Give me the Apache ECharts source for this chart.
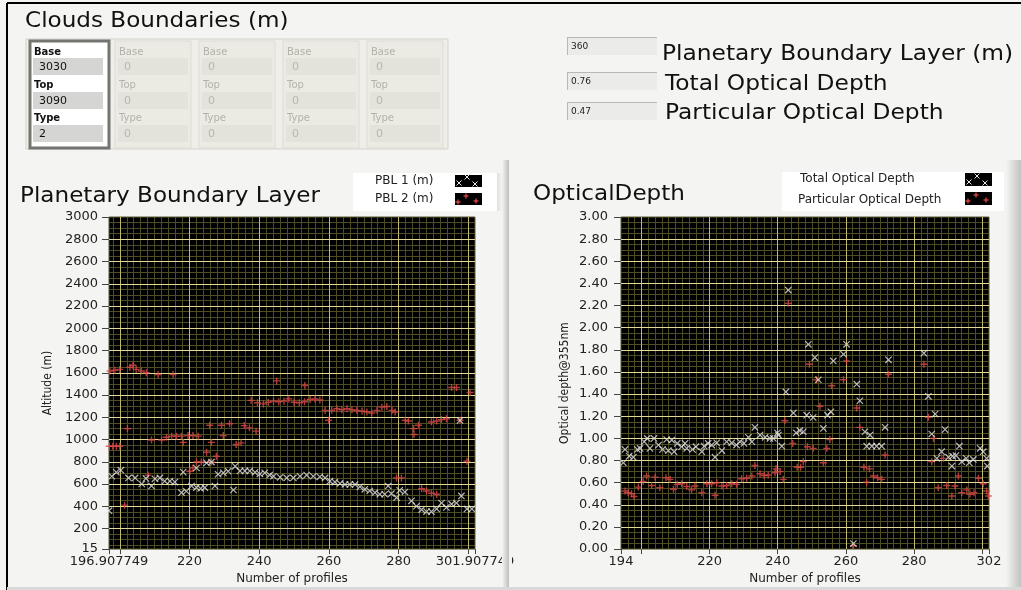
<!DOCTYPE html>
<html><head><meta charset="utf-8">
<script src="https://cdn.jsdelivr.net/npm/echarts@6/dist/echarts.min.js"></script>
<style>html,body{margin:0;padding:0;background:#f4f4f2;}#c{width:1021px;height:590px;}</style>
</head><body><div id="c"></div>
<script>
// ---------------- data ----------------
const cloudFieldLabels = ['Base', 'Top', 'Type'];
const cloudValues = [[3030, 3090, 2], [0, 0, 0], [0, 0, 0], [0, 0, 0], [0, 0, 0]];
const indicatorValues = ['360', '0.76', '0.47'];
const indicatorNames = ['Planetary Boundary Layer (m)', 'Total Optical Depth', 'Particular Optical Depth'];

const pblXLabels = [196.907749, 220, 240, 260, 280, 301.907749];
const pblXTicks = [196.907749, 200, 220, 240, 260, 280, 300, 301.907749];
const pblYLabels = [15, 200, 400, 600, 800, 1000, 1200, 1400, 1600, 1800, 2000, 2200, 2400, 2600, 2800, 3000];
const odXLabels = [194, 220, 240, 260, 280, 302];
const odXTicks = [194, 200, 220, 240, 260, 280, 300, 302];

// PBL 1 (m)  [profile, altitude]
const pbl1 = [[196.9,360],[197.7,670],[199,706],[200.3,724],[202.5,655],[204.4,655],[206.3,600],[207.5,650],[209.1,582],[210.1,647],[211.5,655],[212.9,626],[214.4,626],[215.8,617],[217.7,522],[218.2,707],[219.1,535],[220.6,582],[222,568],[223.2,560],[224.4,568],[222,744],[224.9,790],[226.3,797],[227.3,582],[228.2,688],[229.7,700],[231.1,715],[232.6,546],[233.1,759],[234.5,718],[235.9,718],[237.3,718],[238.8,705],[240.2,690],[241.6,700],[243,680],[244.1,670],[246,660],[247.9,655],[249.8,655],[251.7,670],[253.6,680],[255.5,670],[257.4,665],[258.9,655],[260.3,626],[261.7,617],[263.2,605],[264.6,596],[266,596],[267.5,596],[268.9,575],[270.3,552],[271.7,537],[273.2,522],[274.6,508],[276,508],[277,582],[277.9,513],[279.4,478],[280.3,543],[281.8,528],[283.7,449],[285.1,400],[286.6,370],[288,352],[289.4,352],[290.9,376],[292.3,429],[293.7,390],[295.2,419],[296.6,429],[297.6,1172],[298,493],[299.6,376],[301,376]];
// PBL 2 (m)
const pbl2 = [[197.2,1616],[198.6,1622],[200,1630],[202.9,1650],[203.8,1668],[204.7,1630],[206.2,1616],[207.6,1600],[211,1585],[215.3,1585],[197,940],[198,940],[199,940],[200,940],[201.4,410],[202.2,1098],[208.1,680],[209.1,995],[212,995],[213.4,1020],[214.9,1030],[216.3,1030],[217.7,1030],[218.2,974],[219.6,1035],[221,1035],[222.5,1030],[220.1,715],[221,745],[222,798],[223.4,798],[224.9,885],[226.3,974],[226.3,798],[227.7,850],[225.8,1128],[229.7,1035],[229.2,1128],[231.5,1142],[233.4,955],[234.8,970],[235.7,1125],[237.2,1105],[239.1,1075],[237.7,1352],[239.5,1330],[241.2,1320],[242.6,1335],[244.1,1345],[245,1527],[245.6,1340],[247.1,1345],[248.5,1365],[250,1335],[251.5,1330],[253,1340],[253.1,1485],[254.6,1360],[256,1365],[257.4,1355],[258.9,1262],[259.9,1173],[260.8,1262],[262.3,1277],[263.7,1268],[265.2,1277],[266.6,1268],[268,1262],[269.5,1256],[270.9,1247],[272.3,1238],[273.8,1262],[275.2,1291],[276.6,1297],[278.1,1262],[279,1247],[279.4,655],[280.8,655],[281.9,1173],[282.8,1167],[284.3,1098],[284.4,1045],[285.7,1128],[286.6,558],[288,537],[289.4,517],[290.9,508],[289.4,1158],[290.9,1167],[292.3,1179],[293.7,1187],[295.2,1467],[296.6,1467],[297.6,1173],[299.6,804],[300.5,1423]];
// Total Optical Depth
const totalOD = [[194.7,0.78],[195.2,0.90],[196.4,0.84],[197.6,0.83],[198.8,0.90],[199.6,0.91],[200.8,0.97],[201.7,1.00],[202.5,0.91],[203.7,1.00],[205,0.94],[206.2,0.90],[207.4,0.99],[207.9,0.89],[208.9,0.985],[209.6,0.88],[210.5,0.955],[211.8,0.925],[212.8,0.955],[213.3,0.91],[215,0.90],[216,0.925],[217.7,0.88],[218.4,0.93],[219.6,0.955],[220.6,0.94],[221.6,0.83],[222.1,0.96],[223.6,0.89],[225,0.97],[226.5,0.96],[227.9,0.94],[228.9,0.97],[230.1,0.955],[231.4,1.01],[232.4,0.97],[233.3,1.10],[234.8,1.03],[236.3,1.01],[237.7,1.00],[238.7,1.00],[239.9,1.05],[240.2,1.03],[241.2,0.93],[242.4,1.42],[243.1,2.34],[244.6,1.23],[245.4,1.05],[246.5,1.07],[247.5,1.06],[248.5,1.21],[249,1.85],[250.4,1.19],[250.9,1.73],[251.9,1.53],[253.4,1.09],[254.6,1.21],[255.6,1.24],[256.3,1.70],[259.3,1.76],[260.2,1.85],[262.2,0.05],[263.2,1.49],[264.1,1.34],[265.6,1.06],[266.1,0.93],[267.1,1.03],[267.6,0.93],[269,0.93],[270.5,0.93],[271.5,1.10],[272.5,1.71],[282.9,1.77],[284.2,1.38],[285.2,1.04],[286.2,1.22],[286.7,0.82],[288.1,0.88],[289.1,1.08],[290.1,0.83],[291.1,0.75],[291.3,0.84],[292.3,0.845],[293.3,0.93],[294,0.79],[295.3,0.82],[296.2,0.78],[297.4,0.81],[299.4,0.91],[300.3,0.88],[301.3,0.82],[301.5,0.75]];
// Particular Optical Depth
const particularOD = [[195.2,0.525],[196.1,0.51],[197.1,0.50],[197.8,0.475],[199.1,0.56],[200.5,0.61],[201.5,0.66],[203,0.575],[204,0.65],[205.4,0.555],[207.2,0.645],[208.4,0.63],[209.4,0.54],[210.5,0.585],[211.8,0.59],[213.3,0.565],[214.7,0.535],[215.7,0.57],[217.7,0.51],[219.2,0.59],[220.6,0.59],[221.6,0.487],[222.1,0.60],[223.6,0.57],[225,0.575],[226.5,0.59],[227.9,0.585],[229.4,0.635],[230.9,0.64],[232.4,0.66],[233.3,0.755],[234.8,0.68],[236,0.665],[237.2,0.67],[239.2,0.69],[239.5,0.725],[240.7,0.70],[241.6,0.63],[242.1,1.16],[243.1,2.22],[244.4,0.955],[245.7,0.74],[246.7,0.74],[247.5,0.79],[248.7,0.925],[249.3,1.67],[250.4,0.91],[251.4,1.53],[252.4,1.29],[253.4,0.78],[254.4,0.91],[255.3,0.99],[255.8,1.475],[259.3,1.53],[260.2,1.70],[262.2,0.03],[263.2,1.275],[264.1,1.10],[265.3,0.74],[266.1,0.605],[266.9,0.725],[268.1,0.66],[269.3,0.645],[270.5,0.63],[271.5,0.85],[272.5,1.58],[282.9,1.67],[284.2,1.19],[285.2,0.79],[285.7,1.00],[287.1,0.555],[288.6,0.82],[289.6,0.575],[291.1,0.48],[292,0.57],[293,0.66],[294,0.51],[295.5,0.535],[296.4,0.495],[297.6,0.51],[298.9,0.64],[300.3,0.59],[301.3,0.525],[301.8,0.48]];

// ---------------- style ----------------
const FONT = '"DejaVu Sans", Verdana, sans-serif';
const NARROW = '"Liberation Sans Narrow", "DejaVu Sans Condensed", "Arial Narrow", sans-serif';
const PLUS = 'path://M4,0L6,0L6,4L10,4L10,6L6,6L6,10L4,10L4,6L0,6L0,4L4,4Z';
const XMARK = 'path://M4.35,0L5.65,0L5.65,4.35L10,4.35L10,5.65L5.65,5.65L5.65,10L4.35,10L4.35,5.65L0,5.65L0,4.35L4.35,4.35Z';
const WHITE = '#e4e4e4', RED = '#e04848';
const MINOR = '#4f4d24', MAJOR_V = '#bdb873', MAJOR_H = '#e2d995';

function steps(a, b, s) { const r = []; for (let v = a; v <= b + 1e-9; v += s) r.push(+v.toFixed(4)); return r; }
function gridLines(vMinor, vMajor, hMinor, hMajor) {
  const d = [];
  vMinor.forEach(v => d.push({ xAxis: v, lineStyle: { color: MINOR, width: 1, type: 'solid' } }));
  hMinor.forEach(v => d.push({ yAxis: v, lineStyle: { color: MINOR, width: 1, type: 'solid' } }));
  vMajor.forEach(v => d.push({ xAxis: v, lineStyle: { color: MAJOR_V, width: 1, type: 'solid' } }));
  hMajor.forEach(v => d.push({ yAxis: v, lineStyle: { color: MAJOR_H, width: 1, type: 'solid' } }));
  return d;
}
const leftGrid = gridLines(steps(198, 300, 2), steps(200, 300, 20),
  steps(50, 2950, 50).filter(v => v % 200 !== 0), steps(200, 2800, 200));
const rightGrid = gridLines(steps(196, 300, 2), steps(200, 300, 20),
  steps(0.05, 2.95, 0.05).filter(v => Math.abs(v / 0.2 - Math.round(v / 0.2)) > 1e-6), steps(0.2, 2.8, 0.2));

// ---------------- graphic helpers ----------------
function T(x, y, s, size, fill, extra) {
  return Object.assign({ type: 'text', x: x, y: y, silent: true, z: 10,
    style: { text: s, fontSize: size, fontFamily: FONT, fill: fill || '#111',
      align: 'left', textAlign: 'left', verticalAlign: 'middle', textVerticalAlign: 'middle' } }, extra || {});
}
function R(x, y, w, h, fill, stroke, lw, z) {
  return { type: 'rect', silent: true, z: z || 5, shape: { x: x, y: y, width: w, height: h },
    style: { fill: fill, stroke: stroke || null, lineWidth: lw || 0 } };
}
function L(x1, y1, x2, y2, c, lw, z) {
  return { type: 'line', silent: true, z: z || 12, shape: { x1: x1, y1: y1, x2: x2, y2: y2 }, style: { stroke: c, lineWidth: lw || 1 } };
}
function markX(cx, cy, s, c) { return [L(cx - s, cy - s, cx + s, cy + s, c, 1, 13), L(cx - s, cy + s, cx + s, cy - s, c, 1, 13)]; }
function markP(cx, cy, s, c) { return [L(cx - s, cy, cx + s, cy, c, 1.3, 13), L(cx, cy - s, cx, cy + s, c, 1.3, 13)]; }
function grad(c1, c2) { return new echarts.graphic.LinearGradient(0, 0, 1, 0, [{ offset: 0, color: c1 }, { offset: 1, color: c2 }]); }

const G = [];
// outer frame lines
G.push(L(7, 3, 1021, 3, '#000', 2, 20));
G.push(L(7, 3, 7, 590, '#000', 2, 20));
// titles
G.push(T(25, 22, 'Clouds Boundaries (m)', 21, '#111', { scaleX: 1.1 }));
G.push(T(20, 197, 'Planetary Boundary Layer', 21, '#111', { scaleX: 1.1 }));
G.push(T(533, 195, 'OpticalDepth', 21, '#111', { scaleX: 1.1 }));

// cluster array of clouds
G.push(R(26, 39, 422, 110, '#efeee9', '#d4d3cc', 1, 3));
const elemX = [30, 115, 199, 283, 367];
const labelY = [52, 85, 118], boxY = [58, 92, 125];
cloudValues.forEach((vals, i) => {
  const ex = elemX[i], active = i === 0;
  if (active) {
    G.push(R(ex, 41, 79, 107, '#ffffff', '#747470', 3, 4));
  } else {
    G.push(R(ex, 41, 76, 107, '#ebeae3', '#dddcd5', 1, 4));
  }
  cloudFieldLabels.forEach((lab, k) => {
    G.push({ type: 'text', x: ex + 4, y: labelY[k], silent: true, z: 10,
      style: { text: lab, fontSize: 10, fontFamily: FONT, fontWeight: active ? 'bold' : 'normal',
        fill: active ? '#111' : '#b3b2aa', align: 'left', textAlign: 'left', verticalAlign: 'middle', textVerticalAlign: 'middle' } });
    G.push(R(ex + 3, boxY[k], 70, 17, active ? '#d5d5d3' : '#e3e2db', null, 0, 6));
    G.push(T(ex + 9, boxY[k] + 9, String(vals[k]), 11, active ? '#111' : '#b8b7af'));
  });
});

// indicators top right
const indBoxY = [37, 72, 102], indTextY = [55, 85, 114], indTextX = [662, 665, 665];
indicatorValues.forEach((v, i) => {
  G.push(R(567, indBoxY[i], 90, 18, '#ebebea', null, 0, 5));
  G.push(L(567, indBoxY[i] + 0.5, 657, indBoxY[i] + 0.5, '#b8b8b8', 1, 6));
  G.push(L(567.5, indBoxY[i], 567.5, indBoxY[i] + 18, '#b8b8b8', 1, 6));
  G.push(T(571, indBoxY[i] + 9.5, v, 9, '#222'));
  G.push(T(indTextX[i], indTextY[i], indicatorNames[i], 21, '#111', { scaleX: 1.11 }));
});

// legends
G.push(R(353, 173, 145, 38, '#ffffff', null, 0, 5));
G.push(R(497, 173, 5, 38, grad('#e0e0e0', '#f4f4f2'), null, 0, 5));
G.push(T(375, 181, 'PBL 1 (m)', 12, '#222'));
G.push(T(375, 199, 'PBL 2 (m)', 12, '#222'));
G.push(R(455, 175, 27, 12, '#000', null, 0, 11));
G.push(R(455, 193, 27, 12, '#000', null, 0, 11));
[[459, 183], [467, 177], [475, 184]].forEach(p => G.push(...markX(p[0], p[1], 2.5, WHITE)));
[[458, 202], [466, 196], [476, 201]].forEach(p => G.push(...markP(p[0], p[1], 2.5, RED)));

G.push(R(782, 172, 222, 39, '#ffffff', null, 0, 5));
G.push(T(800, 179, 'Total Optical Depth', 12, '#222'));
G.push(T(798, 199.5, 'Particular Optical Depth', 12, '#222'));
G.push(R(965, 173, 27, 13, '#000', null, 0, 11));
G.push(R(965, 192, 27, 13, '#000', null, 0, 11));
[[969, 182], [977, 176], [985, 183]].forEach(p => G.push(...markX(p[0], p[1], 2.5, WHITE)));
[[968, 201], [976, 195], [986, 200]].forEach(p => G.push(...markP(p[0], p[1], 2.5, RED)));

// panel shadows & bottom edge
G.push(R(502, 160, 7, 428, grad('#f4f4f2', '#bdbdbd'), null, 0, 30));
G.push(R(509, 160, 3, 428, '#f4f4f2', null, 0, 30));
G.push(R(1006, 160, 15, 428, grad('#f4f4f2', '#c2c2c2'), null, 0, 30));
G.push(R(7, 587, 1014, 3, '#d9d9d9', null, 0, 30));

// ---------------- chart ----------------
const axisText = { fontSize: 13, fontFamily: FONT, color: '#222' };
function gridSeries(xi, data) {
  return { type: 'line', xAxisIndex: xi, yAxisIndex: xi, data: [], z: 1, silent: true,
    markLine: { silent: true, z: 1, symbol: ['none', 'none'], animation: false, label: { show: false },
      emphasis: { disabled: true }, data: data } };
}
function scat(name, xi, data, sym, size, rot, color) {
  return { type: 'scatter', name: name, xAxisIndex: xi, yAxisIndex: xi, data: data, symbol: sym,
    symbolSize: size, symbolRotate: rot, itemStyle: { color: color }, z: 3, silent: true };
}

const option = {
  animation: false,
  backgroundColor: '#f4f4f2',
  graphic: { elements: G },
  grid: [
    { left: 109, top: 217, width: 366, height: 337, show: true, backgroundColor: '#000', borderColor: '#5c5a34', borderWidth: 1 },
    { left: 621, top: 217, width: 368, height: 337, show: true, backgroundColor: '#000', borderColor: '#5c5a34', borderWidth: 1 }
  ],
  xAxis: [
    { gridIndex: 0, type: 'value', min: 196.907749, max: 301.907749,
      name: 'Number of profiles', nameLocation: 'middle', nameGap: 21,
      nameTextStyle: { fontSize: 12, fontFamily: FONT, color: '#222' },
      axisLine: { show: false },
      axisTick: { show: true, length: 5, lineStyle: { color: '#444' }, customValues: pblXTicks },
      axisLabel: Object.assign({ customValues: pblXLabels, margin: 6, formatter: v => String(v) }, axisText),
      splitLine: { show: false } },
    { gridIndex: 1, type: 'value', min: 194, max: 302,
      name: 'Number of profiles', nameLocation: 'middle', nameGap: 21,
      nameTextStyle: { fontSize: 12, fontFamily: FONT, color: '#222' },
      axisLine: { show: false },
      axisTick: { show: true, length: 5, lineStyle: { color: '#444' }, customValues: odXTicks },
      axisLabel: Object.assign({ customValues: odXLabels, margin: 6, formatter: v => String(v) }, axisText),
      splitLine: { show: false } }
  ],
  yAxis: [
    { gridIndex: 0, type: 'value', min: 15, max: 3000,
      name: 'Altitude (m)', nameLocation: 'middle', nameGap: 55,
      nameTextStyle: { fontSize: 12, fontFamily: NARROW, color: '#222' },
      axisLine: { show: false },
      axisTick: { show: true, length: 7, lineStyle: { color: '#444' }, customValues: pblYLabels },
      axisLabel: Object.assign({ customValues: pblYLabels, margin: 11, formatter: v => String(v) }, axisText),
      splitLine: { show: false } },
    { gridIndex: 1, type: 'value', min: 0, max: 3, interval: 0.2,
      name: 'Optical depth@355nm', nameLocation: 'middle', nameGap: 50,
      nameTextStyle: { fontSize: 12, fontFamily: NARROW, color: '#222' },
      axisLine: { show: false },
      axisTick: { show: true, length: 7, lineStyle: { color: '#444' } },
      axisLabel: Object.assign({ margin: 13, formatter: v => v.toFixed(2) }, axisText),
      splitLine: { show: false } }
  ],
  series: [
    gridSeries(0, leftGrid),
    gridSeries(1, rightGrid),
    scat('PBL 2 (m)', 0, pbl2, PLUS, 7, 0, RED),
    scat('PBL 1 (m)', 0, pbl1, XMARK, 9, 45, WHITE),
    scat('Particular Optical Depth', 1, particularOD, PLUS, 7, 0, RED),
    scat('Total Optical Depth', 1, totalOD, XMARK, 9, 45, WHITE)
  ]
};
const chart = echarts.init(document.getElementById('c'), null, { renderer: 'canvas' });
chart.setOption(option);
</script></body></html>
